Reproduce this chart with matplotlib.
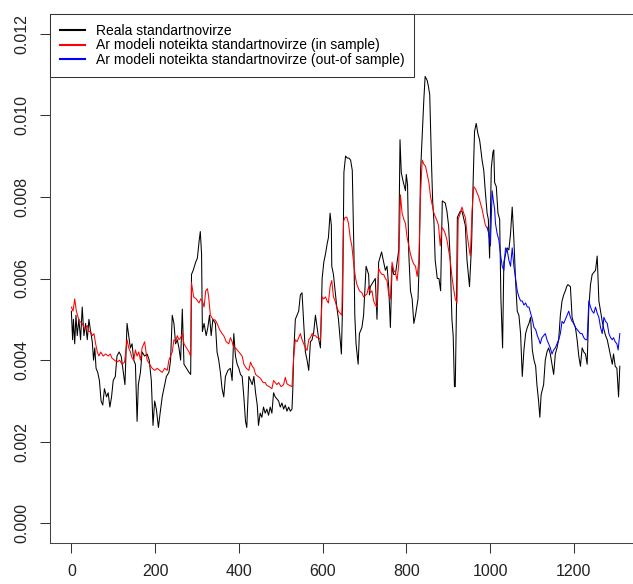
"""
Realised vs. AR-model standard deviation, in-sample and out-of-sample.
Values read off the reference chart (units of 0.001).
"""

import numpy as np
import matplotlib
matplotlib.use("Agg")
import matplotlib.pyplot as plt

plt.rcParams["font.family"] = ["Liberation Sans", "DejaVu Sans"]

# ----------------------------------------------------------------------
# Data (x = observation index, y = std. dev. in units of 1e-3)
# ----------------------------------------------------------------------

REAL_X = [
    0, 3, 5, 8, 11, 14, 18, 22, 26, 30, 34, 38, 42, 46, 50, 53, 56, 59, 63, 67,
    71, 75, 79, 84, 88, 92, 96, 100, 105, 109, 114, 119, 124, 128, 133, 137, 141, 145, 149, 153,
    157, 160, 165, 169, 175, 181, 186, 191, 195, 199, 203, 208, 212, 217, 221, 227, 233, 237, 241, 245,
    249, 253, 257, 261, 265, 269, 275, 281, 285, 287, 291, 297, 301, 305, 308, 311, 313, 317, 322, 326,
    330, 334, 338, 344, 348, 352, 356, 360, 364, 368, 374, 380, 384, 388, 392, 396, 400, 404, 408, 412,
    416, 419, 424, 428, 432, 436, 440, 444, 447, 451, 455, 459, 463, 467, 471, 475, 479, 483, 487, 491,
    495, 499, 503, 507, 511, 515, 519, 523, 527, 529, 531, 535, 539, 543, 547, 551, 555, 559, 563, 567,
    571, 575, 579, 583, 587, 591, 595, 599, 603, 607, 611, 614, 618, 621, 622, 626, 630, 634, 638, 642,
    645, 648, 651, 655, 659, 663, 667, 671, 673, 675, 677, 680, 685, 688, 694, 698, 704, 710, 712, 714,
    720, 726, 730, 734, 741, 746, 750, 754, 758, 762, 766, 770, 774, 778, 782, 785, 788, 792, 798, 800,
    803, 806, 810, 814, 818, 822, 828, 831, 834, 838, 842, 845, 850, 853, 856, 858, 860, 863, 866, 869,
    874, 878, 882, 884, 886, 893, 897, 901, 905, 909, 912, 915, 917, 920, 922, 929, 933, 941, 945, 951,
    956, 960, 963, 967, 971, 975, 977, 981, 985, 989, 993, 996, 999, 1003, 1007, 1009, 1011, 1015, 1019, 1023,
    1026, 1030, 1033, 1037, 1041, 1045, 1049, 1053, 1057, 1061, 1065, 1069, 1073, 1077, 1081, 1085, 1089, 1093, 1097, 1101,
    1105, 1109, 1112, 1116, 1119, 1122, 1128, 1132, 1136, 1140, 1144, 1148, 1152, 1156, 1160, 1164, 1168, 1172, 1176, 1180,
    1183, 1186, 1192, 1196, 1200, 1204, 1208, 1212, 1216, 1220, 1224, 1228, 1232, 1236, 1240, 1244, 1248, 1252, 1256, 1260,
    1264, 1268, 1272, 1276, 1280, 1284, 1288, 1292, 1295, 1299, 1303, 1307, 1310,
]
REAL_Y = [
    5.2, 4.5, 5.0, 4.4, 5.1, 4.6, 5.0, 4.5, 5.3, 4.6, 4.9, 4.5, 5.0, 4.7, 4.45, 4.0, 4.3, 3.8, 3.7, 3.5,
    3.0, 2.9, 3.3, 3.1, 3.2, 2.85, 3.1, 3.5, 3.6, 4.1, 4.2, 4.1, 3.7, 3.4, 4.9, 4.6, 4.3, 4.4, 4.0, 3.9,
    2.5, 3.4, 3.7, 4.2, 4.1, 4.15, 4.0, 3.5, 2.4, 3.0, 2.8, 2.35, 2.7, 3.1, 3.3, 3.6, 3.7, 4.0, 5.1, 4.9,
    4.4, 4.5, 4.3, 4.0, 5.25, 3.9, 3.8, 3.7, 3.65, 6.1, 6.2, 6.4, 6.5, 6.9, 7.15, 6.6, 4.7, 4.9, 4.6, 4.8,
    5.1, 4.6, 5.0, 4.9, 4.2, 4.0, 3.7, 3.3, 3.1, 3.6, 3.75, 3.8, 3.5, 4.65, 4.1, 3.9, 3.8, 3.65, 3.6, 3.1,
    2.5, 2.35, 3.6, 3.5, 3.4, 3.6, 3.2, 2.9, 2.4, 2.7, 2.6, 2.85, 2.7, 2.8, 2.65, 2.85, 2.7, 3.2, 3.1, 3.05,
    3.0, 2.85, 2.95, 2.8, 2.9, 2.75, 2.85, 2.75, 2.8, 3.3, 4.15, 5.0, 5.1, 5.2, 5.6, 5.65, 4.9, 4.2, 4.0, 3.75,
    4.45, 4.5, 4.7, 5.1, 4.8, 4.5, 4.3, 6.0, 6.4, 6.6, 6.85, 7.0, 7.6, 7.3, 6.3, 6.1, 5.7, 5.3, 5.0, 4.5,
    4.15, 5.45, 8.6, 9.0, 8.95, 8.95, 8.9, 8.65, 7.6, 6.6, 5.1, 4.4, 3.9, 4.65, 4.8, 5.1, 6.3, 6.1, 5.6, 5.8,
    5.9, 6.0, 5.0, 6.4, 6.65, 6.4, 6.2, 6.3, 5.8, 4.8, 6.3, 6.1, 6.1, 6.4, 6.7, 9.4, 8.6, 8.4, 8.15, 8.55,
    8.3, 6.6, 5.7, 5.5, 4.9, 5.1, 5.5, 6.45, 8.6, 9.5, 10.4, 10.95, 10.85, 10.7, 10.5, 9.7, 8.9, 7.9, 7.4, 6.45,
    6.0, 6.0, 5.7, 6.8, 7.9, 7.85, 7.65, 7.3, 6.45, 5.0, 4.6, 3.35, 3.35, 5.4, 7.5, 7.65, 7.65, 7.3, 6.45, 5.8,
    6.85, 8.5, 9.6, 9.8, 9.55, 9.4, 9.25, 8.9, 8.65, 8.1, 7.6, 7.45, 6.5, 8.7, 9.1, 9.15, 8.35, 8.25, 7.6, 7.45,
    5.5, 4.3, 6.4, 6.6, 6.75, 6.7, 7.1, 7.75, 6.95, 5.95, 5.2, 5.1, 4.65, 3.6, 4.25, 4.65, 4.8, 4.9, 5.05, 4.25,
    4.0, 3.85, 3.4, 3.0, 2.6, 3.15, 3.4, 4.0, 4.2, 4.3, 4.15, 3.9, 3.65, 4.15, 4.3, 4.5, 5.1, 5.45, 5.6, 5.7,
    5.8, 5.85, 5.8, 5.05, 4.9, 4.8, 4.5, 4.1, 3.85, 4.3, 4.2, 4.15, 3.9, 5.3, 5.85, 6.1, 6.15, 6.2, 6.55, 5.45,
    5.2, 4.95, 4.75, 4.6, 4.5, 4.3, 4.1, 3.9, 4.15, 3.85, 3.8, 3.1, 3.85,
]

IN_X = [
    0, 4, 8, 12, 16, 20, 26, 32, 38, 42, 46, 50, 54, 58, 62, 66, 70, 76, 82, 88,
    93, 97, 103, 109, 115, 121, 127, 133, 137, 141, 145, 149, 153, 157, 161, 165, 169, 175, 181, 187,
    193, 199, 205, 211, 217, 223, 229, 233, 237, 241, 245, 249, 253, 257, 261, 265, 269, 275, 281, 285,
    287, 292, 298, 305, 309, 313, 317, 321, 325, 328, 332, 338, 344, 348, 354, 360, 364, 370, 376, 380,
    384, 388, 392, 400, 408, 412, 418, 424, 428, 432, 436, 440, 446, 452, 458, 463, 467, 473, 479, 483,
    487, 491, 495, 501, 507, 511, 515, 521, 527, 531, 535, 539, 543, 547, 551, 555, 559, 563, 567, 571,
    575, 579, 583, 587, 591, 595, 599, 603, 607, 611, 614, 618, 622, 626, 630, 634, 638, 642, 646, 650,
    654, 658, 662, 666, 670, 675, 679, 682, 688, 694, 698, 706, 710, 714, 718, 722, 726, 730, 734, 738,
    742, 746, 750, 754, 758, 762, 766, 770, 774, 778, 782, 786, 790, 794, 798, 802, 806, 810, 814, 818,
    822, 826, 830, 834, 838, 842, 846, 850, 854, 858, 862, 866, 870, 874, 877, 881, 885, 889, 893, 897,
    901, 905, 909, 913, 917, 921, 924, 929, 933, 937, 941, 945, 949, 953, 957, 961, 965, 969, 973, 977,
    981, 985, 989, 993,
]
IN_Y = [
    5.3, 5.2, 5.5, 5.2, 5.05, 4.95, 4.9, 4.75, 4.85, 4.7, 4.7, 4.6, 4.65, 4.4, 4.2, 4.1, 4.2, 4.1, 4.15, 4.1,
    4.15, 4.05, 4.0, 3.95, 4.0, 3.9, 3.95, 4.5, 4.3, 4.2, 4.05, 4.0, 4.25, 4.1, 4.2, 4.0, 4.3, 4.45, 4.0, 3.9,
    3.8, 3.75, 3.8, 3.75, 3.7, 3.8, 3.75, 4.0, 4.1, 4.2, 4.5, 4.45, 4.6, 4.5, 4.55, 4.65, 4.4, 4.3, 4.2, 4.1,
    5.9, 5.55, 5.5, 5.4, 5.5, 5.45, 5.3, 5.7, 5.75, 5.55, 5.1, 5.0, 4.98, 4.9, 4.75, 4.65, 4.6, 4.45, 4.4, 4.55,
    4.45, 4.3, 4.3, 4.2, 4.1, 3.9, 3.8, 3.75, 3.95, 3.85, 3.8, 3.65, 3.6, 3.55, 3.45, 3.45, 3.38, 3.35, 3.3, 3.5,
    3.45, 3.4, 3.45, 3.35, 3.4, 3.58, 3.42, 3.38, 3.35, 4.07, 4.5, 4.45, 4.55, 4.65, 4.5, 4.4, 4.3, 4.24, 4.5, 4.55,
    4.65, 4.6, 4.6, 4.55, 4.55, 4.5, 5.55, 5.5, 5.55, 5.45, 5.4, 5.8, 5.95, 5.55, 5.45, 5.3, 5.2, 5.15, 5.1, 7.4,
    7.5, 7.5, 7.35, 7.0, 6.8, 6.3, 6.0, 5.85, 5.7, 5.65, 5.55, 5.62, 5.8, 5.65, 5.7, 5.45, 5.35, 5.3, 6.25, 6.15,
    6.1, 6.1, 6.0, 5.95, 5.6, 5.5, 6.4, 6.2, 6.15, 5.95, 6.35, 8.05, 7.6, 7.45, 7.35, 7.0, 6.8, 6.6, 6.45, 6.35,
    6.3, 6.05, 6.45, 8.05, 8.9, 8.8, 8.75, 8.55, 8.35, 8.0, 7.8, 7.6, 7.5, 7.4, 7.3, 6.8, 7.25, 7.2, 7.1, 6.95,
    6.7, 6.45, 6.05, 5.75, 5.5, 5.4, 7.45, 7.6, 7.75, 7.6, 7.5, 7.1, 6.8, 6.55, 7.65, 8.25, 8.2, 8.1, 8.0, 7.85,
    7.7, 7.5, 7.3, 7.25,
]

OUT_X = [
    993, 997, 1001, 1005, 1008, 1011, 1013, 1017, 1021, 1025, 1029, 1033, 1037, 1041, 1045, 1049, 1053, 1057, 1061, 1065,
    1069, 1073, 1077, 1081, 1085, 1089, 1093, 1097, 1101, 1105, 1109, 1113, 1117, 1120, 1124, 1128, 1132, 1136, 1140, 1144,
    1148, 1152, 1156, 1160, 1164, 1168, 1172, 1176, 1180, 1184, 1188, 1192, 1196, 1200, 1204, 1208, 1212, 1216, 1220, 1224,
    1228, 1232, 1236, 1240, 1244, 1248, 1252, 1256, 1260, 1264, 1268, 1272, 1276, 1280, 1284, 1288, 1292, 1295, 1299, 1303,
    1306, 1310,
]
OUT_Y = [
    7.25, 7.1, 6.8, 8.15, 7.9, 7.7, 7.35, 7.1, 6.95, 6.6, 6.3, 6.2, 6.75, 6.7, 6.45, 6.3, 6.75, 6.3, 6.0, 5.7,
    5.55, 5.45, 5.45, 5.35, 5.4, 5.3, 5.3, 5.15, 5.0, 4.8, 4.75, 4.6, 4.5, 4.4, 4.55, 4.6, 4.65, 4.5, 4.4, 4.3,
    4.15, 4.25, 4.3, 4.4, 4.5, 4.65, 4.95, 4.9, 5.0, 5.1, 5.2, 5.05, 4.95, 4.9, 4.8, 4.75, 4.7, 4.65, 4.65, 4.55,
    4.5, 4.5, 5.45, 5.3, 5.2, 5.15, 5.3, 5.15, 5.05, 4.8, 4.65, 5.05, 4.95, 4.9, 4.65, 4.55, 4.5, 4.55, 4.45, 4.4,
    4.25, 4.65,
]

LABELS = [
    "Reala standartnovirze",
    "Ar modeli noteikta standartnovirze (in sample)",
    "Ar modeli noteikta standartnovirze (out-of sample)",
]
X_TICKS = [0, 200, 400, 600, 800, 1000, 1200]
Y_TICKS = [0.000, 0.002, 0.004, 0.006, 0.008, 0.010, 0.012]

SCALE = 1e-3
W, H, DPI = 633, 584, 100


def plot():
    fig = plt.figure(figsize=(W / DPI, H / DPI), dpi=DPI)
    # plot region (pixels): left 50, top 14, bottom 543; right edge falls off the image
    ax = fig.add_axes([50 / W, (H - 543) / H, 592 / W, (543 - 14) / H])

    lw = 0.75
    ax.plot(REAL_X, np.array(REAL_Y) * SCALE, color="black", lw=lw, label=LABELS[0])
    ax.plot(IN_X, np.array(IN_Y) * SCALE, color="red", lw=lw, label=LABELS[1])
    ax.plot(OUT_X, np.array(OUT_Y) * SCALE, color="blue", lw=lw, label=LABELS[2])

    ax.set_xlim(-51, 1363)
    ax.set_ylim(-0.00048, 0.01248)

    ax.set_xticks(X_TICKS)
    ax.set_xticklabels([str(t) for t in X_TICKS])
    ax.set_yticks(Y_TICKS)
    ax.set_yticklabels([f"{t:.3f}" for t in Y_TICKS], rotation=90, va="center")
    ax.tick_params(axis="both", length=7, width=0.75, color="#333333",
                   labelsize=11.5, labelcolor="#222222")
    ax.tick_params(axis="x", pad=8)
    ax.tick_params(axis="y", pad=8)

    for sp in ax.spines.values():
        sp.set_color("#444444")
        sp.set_linewidth(0.75)

    leg = ax.legend(loc="upper left", bbox_to_anchor=(0, 1), borderaxespad=0,
                    fancybox=False, edgecolor="#333333", framealpha=1,
                    fontsize=10, handlelength=1.8, handletextpad=0.8,
                    borderpad=0.7, labelspacing=0.05)
    leg.get_frame().set_linewidth(0.75)
    for line in leg.get_lines():
        line.set_linewidth(1.5)

    fig.savefig("out.png", dpi=DPI)


if __name__ == "__main__":
    plot()
